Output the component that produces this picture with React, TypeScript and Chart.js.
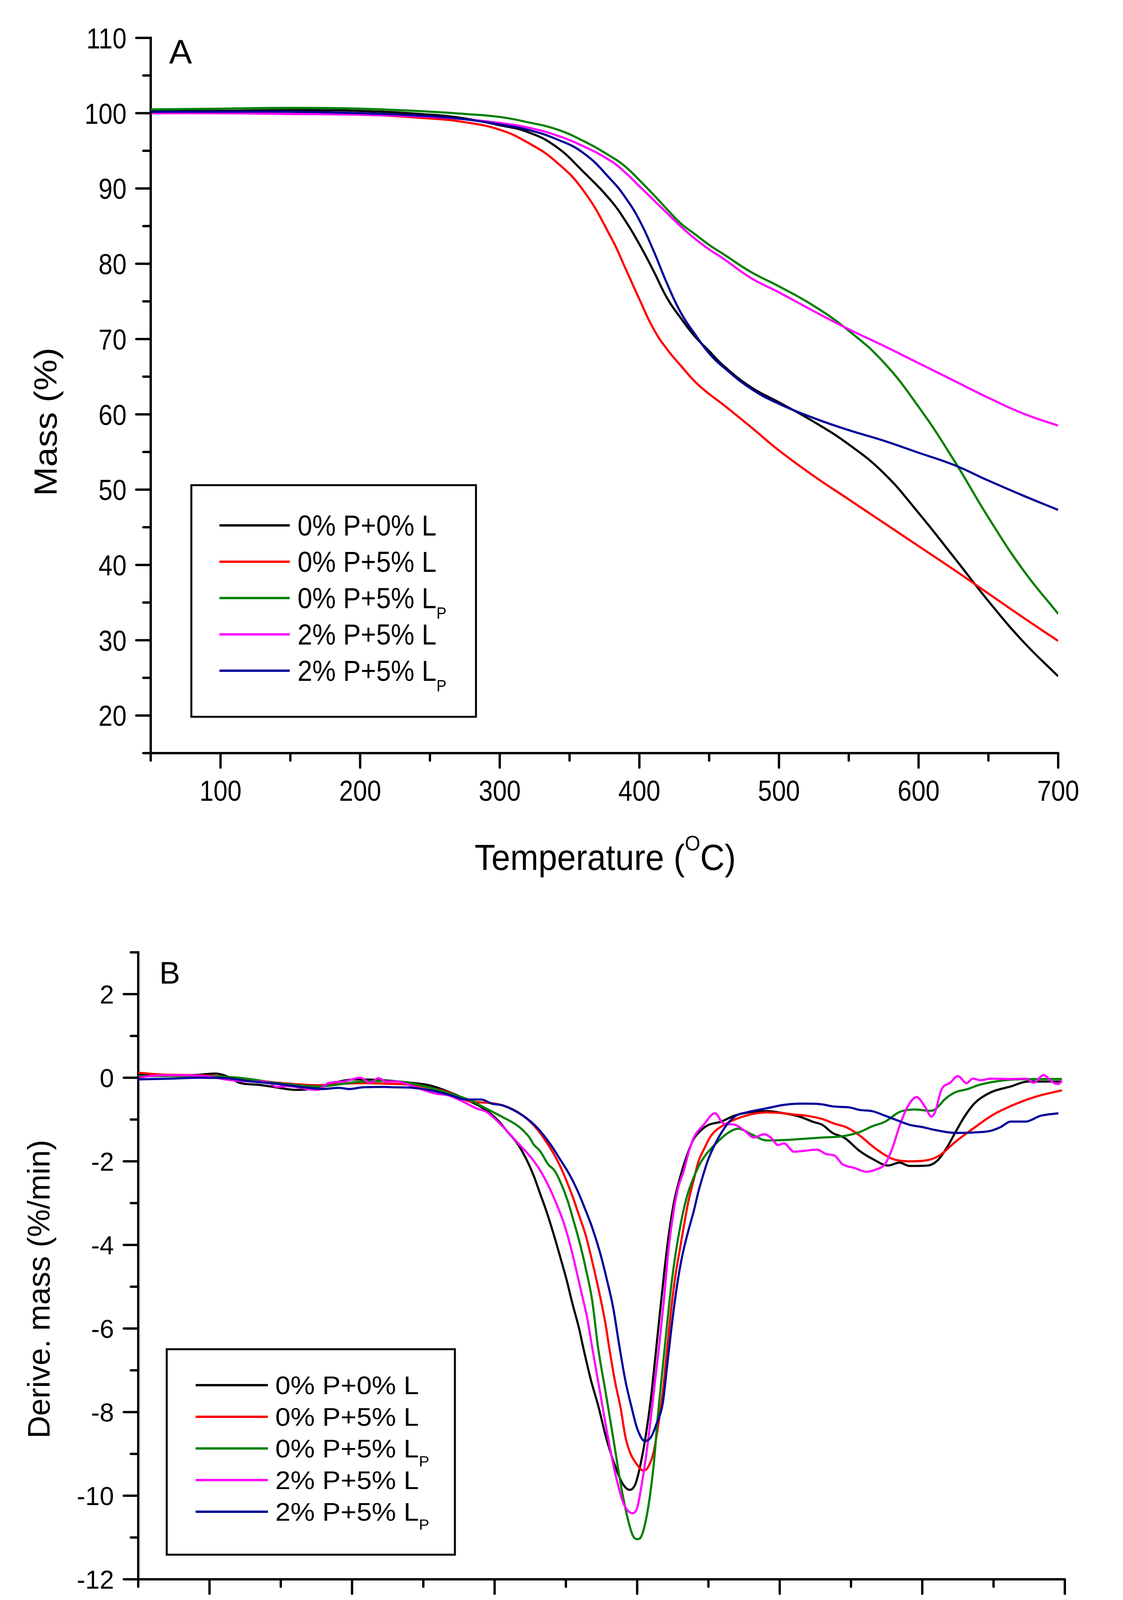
import React, { useEffect, useRef } from 'react';
import { Chart, registerables } from 'chart.js';

Chart.register(...registerables);

type Pt = [number, number];

// legend entries: main text + subscript
const seriesNames = ['0% P+0% L', '0% P+5% L', '0% P+5% L', '2% P+5% L', '2% P+5% L'];
const seriesSubs = ['', '', 'P', '', 'P'];
const seriesColors = ['#000000', '#ff0000', '#008000', '#ff00ff', '#000099'];

// axes
const tempMin = 50;
const tempMax = 700;
const tempStep = 50;
const tempLabelStep = 100;
const massMin = 15;
const massMax = 110;
const massStep = 5;
const massLabelStep = 10;
const dtgMin = -12;
const dtgMax = 3;
const dtgStep = 1;
const dtgLabelStep = 2;

// panel A: Mass (%) vs temperature (°C)
const tempsA = [50, 100, 150, 200, 250, 275, 300, 320, 340, 360, 380, 390, 400, 410, 420, 430, 440, 450,
  460, 480, 500, 525, 550, 575, 600, 625, 650, 675, 700];
const massP0L0 = [100.3, 100.3, 100.4, 100.3, 99.8, 99.3, 98.4, 97.5, 95.6, 92.2, 88.3, 85.7, 82.6, 79.1,
  75.4, 72.7, 70.3, 68.4, 66.5, 63.6, 61.6, 59.0, 56.0, 52.2, 46.9, 41.1, 35.2, 29.8, 25.2];
const massP0L5 = [100.0, 100.0, 99.9, 99.8, 99.3, 98.8, 97.8, 96.1, 93.6, 89.7, 83.4, 79.4, 75.3, 71.4,
  68.6, 66.4, 64.3, 62.7, 61.3, 58.3, 55.2, 51.8, 48.7, 45.6, 42.5, 39.4, 36.2, 33.0, 29.9];
const massP0L5p = [100.5, 100.6, 100.7, 100.6, 100.2, 99.9, 99.5, 98.8, 97.9, 96.3, 94.2, 92.9, 91.1, 89.2,
  87.2, 85.3, 83.9, 82.5, 81.3, 78.9, 77.0, 74.4, 71.1, 66.9, 61.0, 54.0, 46.3, 39.3, 33.5];
const massP2L5 = [100.0, 100.0, 99.9, 99.8, 99.5, 99.2, 98.7, 98.1, 97.1, 95.6, 93.6, 92.1, 90.3, 88.5,
  86.7, 84.9, 83.3, 81.9, 80.7, 78.1, 76.2, 73.7, 71.3, 69.1, 66.8, 64.5, 62.2, 60.1, 58.5];
const massP2L5p = [100.2, 100.2, 100.2, 100.0, 99.6, 99.2, 98.5, 97.8, 96.6, 94.7, 91.1, 88.8, 85.8, 81.8,
  77.3, 73.4, 70.6, 68.1, 66.3, 63.4, 61.4, 59.5, 57.9, 56.5, 54.9, 53.3, 51.2, 49.2, 47.3];

// panel B: derivative mass (%/min) vs temperature, as [°C, %/min]
const dtgP0L0: Pt[] = [
  [50, 0.07], [74, 0.05], [92, 0.07], [104, 0.10], [111, 0.05], [122, -0.13], [135, -0.17],
  [143, -0.21], [161, -0.29], [168, -0.28], [180, -0.21], [191, -0.09], [204, -0.04], [222, -0.06],
  [241, -0.12], [254, -0.18], [268, -0.34], [283, -0.57], [292, -0.73], [302, -1.01], [309, -1.29],
  [316.5, -1.60], [323, -2.0], [327.5, -2.35], [332, -2.78], [336.6, -3.22], [341.2, -3.72],
  [345.7, -4.25], [350.3, -4.81], [354.8, -5.43], [359.4, -6.02], [362.2, -6.46], [367.6, -7.24],
  [372.8, -7.86], [378, -8.58], [383.3, -9.17], [389.6, -9.70], [394.8, -9.86], [399, -9.70],
  [403.2, -9.11], [406.4, -8.48], [409.5, -7.71], [413, -6.6], [418.8, -4.71], [422, -3.8],
  [426, -2.95], [430, -2.4], [434, -1.95], [439.6, -1.47], [445, -1.25], [450, -1.13], [459, -1.05],
  [468, -0.91], [480, -0.82], [491, -0.80], [503, -0.85], [514, -0.93], [523, -1.05], [530, -1.13],
  [537, -1.32], [545.5, -1.44], [556, -1.75], [565, -1.94], [576, -2.10], [584, -2.03], [591, -2.11],
  [604, -2.10], [611, -1.97], [618, -1.63], [623, -1.32], [630, -0.91], [637, -0.60], [648, -0.35],
  [662, -0.21], [674, -0.09], [698, -0.09]
];
const dtgP0L5: Pt[] = [
  [50, 0.12], [65, 0.08], [92, 0.06], [120, 0.0], [148, -0.12], [176, -0.18], [204, -0.13],
  [222, -0.14], [241, -0.17], [268, -0.35], [283, -0.57], [296, -0.60], [309, -0.70], [320, -0.91],
  [329.6, -1.22], [337.5, -1.60], [343.9, -1.97], [349.4, -2.38], [354.8, -2.85], [359.4, -3.31],
  [364, -3.78], [368.5, -4.40], [373.1, -5.09], [377.7, -5.87], [380.4, -6.46], [384.3, -7.24],
  [388.5, -7.92], [391.7, -8.58], [394.8, -8.95], [400, -9.26], [404.3, -9.40], [407.4, -9.33],
  [411.6, -8.95], [414.7, -8.33], [417.9, -7.55], [421, -6.5], [424, -5.5], [427, -4.7], [430, -4.1],
  [433, -3.5], [436, -2.95], [440, -2.4], [443, -2.0], [447, -1.7], [452, -1.38], [462.5, -1.10],
  [477, -0.90], [491, -0.83], [503, -0.85], [510, -0.88], [519, -0.91], [530, -0.99], [538.5, -1.10],
  [547, -1.19], [556, -1.38], [567, -1.69], [579, -1.94], [591, -2.00], [604, -1.97], [612.5, -1.85],
  [623, -1.54], [635.5, -1.22], [650, -0.88], [664, -0.65], [680, -0.45], [698, -0.30]
];
const dtgP0L5p: Pt[] = [
  [50, 0.04], [92, 0.04], [120, 0.0], [148, -0.13], [176, -0.21], [204, -0.10], [222, -0.08],
  [241, -0.13], [268, -0.37], [283, -0.54], [292.5, -0.71], [305.5, -0.94], [316.6, -1.16],
  [324, -1.41], [327.5, -1.60], [332, -1.76], [337.5, -2.07], [342, -2.22], [346.6, -2.53],
  [351.2, -2.94], [355.8, -3.47], [360.3, -4.03], [364.9, -4.71], [368.5, -5.34], [372.6, -6.46],
  [378, -7.55], [383.3, -8.64], [388.5, -9.73], [392.7, -10.45], [396.9, -10.95], [400, -11.04],
  [403.2, -10.95], [407.4, -10.35], [411.6, -9.26], [414.7, -8.02], [418.4, -6.77], [421, -5.9],
  [424, -4.95], [427, -4.2], [430, -3.6], [433, -3.1], [436, -2.72], [443, -2.13], [448, -1.85],
  [453.7, -1.63], [462.5, -1.35], [471, -1.22], [480, -1.35], [491, -1.50], [503, -1.49],
  [517, -1.46], [530, -1.43], [544, -1.40], [556, -1.30], [565, -1.16], [574, -1.05], [584, -0.82],
  [595, -0.76], [605.5, -0.79], [609, -0.76], [616, -0.51], [623, -0.35], [632, -0.27], [639, -0.18],
  [649.6, -0.10], [665.5, -0.04], [698, -0.03]
];
const dtgP2L5: Pt[] = [
  [50, -0.01], [55.5, 0.03], [74, 0.06], [92.5, 0.05], [102, 0.02], [111, -0.04], [129.5, -0.09],
  [140.6, -0.10], [147, -0.22], [153.6, -0.20], [164.7, -0.24], [168.4, -0.27], [176, -0.29],
  [183.2, -0.13], [194.4, -0.09], [205.5, 0.0], [213, -0.12], [218.4, -0.01], [224, -0.09],
  [231.4, -0.09], [240.7, -0.18], [257.3, -0.37], [268.4, -0.43], [277.7, -0.57], [287, -0.73],
  [294.4, -0.82], [305.5, -1.16], [314.7, -1.50], [317.4, -1.60], [325.6, -1.91], [332, -2.22],
  [338.4, -2.63], [343.9, -3.06], [348.5, -3.47], [353, -4.0], [357.6, -4.65], [361.2, -5.18],
  [364.9, -5.74], [368.5, -6.46], [374.9, -7.71], [380.2, -8.73], [385.4, -9.58], [390.6, -10.2],
  [396.9, -10.42], [400, -10.29], [403.2, -9.73], [406.4, -9.01], [409.5, -8.17], [412.6, -7.24],
  [415.8, -6.3], [418.8, -5.3], [422, -4.1], [426, -3.1], [429, -2.6], [432.5, -2.25], [436, -1.8],
  [439.6, -1.44], [446.6, -1.13], [454.6, -0.85], [460.7, -1.10], [468, -1.12], [475, -1.26],
  [482, -1.43], [489, -1.35], [494, -1.44], [498.7, -1.61], [503, -1.57], [510, -1.77], [517, -1.75],
  [526, -1.72], [533, -1.83], [538.4, -1.86], [543.7, -2.06], [552.5, -2.16], [561, -2.25],
  [568, -2.19], [574, -2.06], [579, -1.69], [584, -1.16], [589.6, -0.70], [596, -0.46], [602, -0.70],
  [606.4, -0.93], [609, -0.82], [613.4, -0.29], [619.6, -0.12], [625, 0.04], [631, -0.13],
  [635.5, -0.02], [641, -0.06], [648, -0.02], [662, -0.03], [672.5, -0.02], [678, -0.12],
  [685, 0.06], [692, -0.12], [695.5, -0.15], [698, -0.07]
];
const dtgP2L5p: Pt[] = [
  [50, -0.04], [74, -0.02], [92.5, 0.0], [111, -0.01], [129.5, -0.09], [148, -0.15], [166.6, -0.23],
  [179.5, -0.27], [190.7, -0.24], [198, -0.27], [207.3, -0.23], [222, -0.22], [231.4, -0.23],
  [242.5, -0.24], [253.6, -0.29], [268.4, -0.41], [279.5, -0.52], [290.7, -0.52], [298, -0.62],
  [305.5, -0.66], [320, -0.91], [330, -1.2], [339.3, -1.60], [345.7, -1.94], [352.1, -2.29],
  [357.6, -2.66], [363, -3.10], [368.5, -3.59], [374, -4.19], [378.6, -4.81], [383.1, -5.49],
  [387.7, -6.46], [391.7, -7.24], [395.9, -7.86], [400, -8.39], [405.3, -8.69], [409.5, -8.61],
  [413.7, -8.27], [417.9, -7.80], [421, -6.9], [424, -6.0], [427, -5.2], [430, -4.55], [433, -4.05],
  [436, -3.65], [440, -3.15], [443, -2.72], [447, -2.25], [450, -1.94], [459, -1.32], [468, -0.94],
  [478, -0.82], [491, -0.73], [503, -0.65], [515.5, -0.62], [528, -0.63], [538.4, -0.69],
  [549, -0.71], [556, -0.77], [565, -0.80], [574, -0.91], [582.5, -1.02], [591.4, -1.13],
  [600, -1.18], [609, -1.25], [623, -1.32], [635.5, -1.31], [648, -1.27], [655, -1.18], [662, -1.05],
  [672.5, -1.05], [683, -0.91], [695.5, -0.85]
];

const massSeries: Pt[][] = [massP0L0, massP0L5, massP0L5p, massP2L5, massP2L5p]
  .map(vals => vals.map((v, i) => [tempsA[i], v] as Pt));
const dtgSeries = [dtgP0L0, dtgP0L5, dtgP0L5p, dtgP2L5, dtgP2L5p];

const SANS = '"Liberation Sans", Arial, sans-serif';

type Part = { t: string; size: number; dy: number };

// draws a run of text pieces (for sub/superscripts), squeezed like the original figure
function drawRun(ctx: CanvasRenderingContext2D, parts: Part[], x: number, y: number,
  align: 'left' | 'center' | 'right', sx: number, sy: number) {
  const widths = parts.map(p => {
    ctx.font = `${p.size}px ${SANS}`;
    return ctx.measureText(p.t).width;
  });
  const total = widths.reduce((a, b) => a + b, 0);
  ctx.save();
  ctx.translate(x, y);
  ctx.scale(sx, sy);
  ctx.fillStyle = '#000';
  ctx.textAlign = 'left';
  ctx.textBaseline = 'alphabetic';
  let cx = align === 'center' ? -total / 2 : align === 'right' ? -total : 0;
  parts.forEach((p, i) => {
    ctx.font = `${p.size}px ${SANS}`;
    ctx.fillText(p.t, cx, p.dy);
    cx += widths[i];
  });
  ctx.restore();
}

const decoPlugin = {
  id: 'deco',
  afterDraw(chart: any, _args: any, o: any) {
    const { ctx, chartArea, scales } = chart;
    const xs = scales.x;
    const ys = scales.y;
    ctx.save();

    // tick marks (major long, minor short), drawn outwards, plus their labels
    ctx.strokeStyle = '#000';
    ctx.lineWidth = o.tickWidth;
    ctx.lineCap = 'round';
    const tl = o.tickLabel;
    xs.ticks.forEach((t: any) => {
      const px = xs.getPixelForValue(t.value);
      const major = t.value % tempLabelStep === 0;
      ctx.beginPath();
      ctx.moveTo(px, chartArea.bottom);
      ctx.lineTo(px, chartArea.bottom + (major ? o.majorLen : o.minorLen));
      ctx.stroke();
      if (major) {
        drawRun(ctx, [{ t: String(t.value), size: tl.size, dy: 0 }],
          px, chartArea.bottom + tl.xBaseline, 'center', tl.sx, tl.sy);
      }
    });
    ys.ticks.forEach((t: any) => {
      const py = ys.getPixelForValue(t.value);
      const major = Math.abs(t.value % o.yLabelStep) < 1e-6;
      ctx.beginPath();
      ctx.moveTo(chartArea.left, py);
      ctx.lineTo(chartArea.left - (major ? o.majorLen : o.minorLen), py);
      ctx.stroke();
      if (major) {
        drawRun(ctx, [{ t: String(t.value), size: tl.size, dy: 0 }],
          chartArea.left - tl.yGap, py + 0.358 * tl.size * tl.sy, 'right', tl.sx, tl.sy);
      }
    });

    // panel letter
    drawRun(ctx, [{ t: o.letter.text, size: o.letter.size, dy: 0 }], o.letter.x, o.letter.y, 'left', 1, 1);

    // y title (rotated)
    ctx.save();
    ctx.translate(o.yTitle.x, o.yTitle.y);
    ctx.rotate(-Math.PI / 2);
    ctx.scale(1, o.yTitle.thick);
    ctx.fillStyle = '#000';
    ctx.font = `${o.yTitle.size}px ${SANS}`;
    ctx.textAlign = 'center';
    ctx.textBaseline = 'middle';
    ctx.fillText(o.yTitle.text, 0, 0);
    ctx.restore();

    // x title with superscript O
    const f = o.xTitle.size;
    drawRun(ctx, [
      { t: 'Temperature (', size: f, dy: 0 },
      { t: 'O', size: f * 0.59, dy: -f * 0.54 },
      { t: 'C)', size: f, dy: 0 }
    ], o.xTitle.x, o.xTitle.y, 'center', o.xTitle.sx, o.xTitle.sy);

    // legend box
    const lg = o.legend;
    ctx.strokeStyle = '#000';
    ctx.lineWidth = lg.boxWidth;
    ctx.strokeRect(lg.box[0], lg.box[1], lg.box[2] - lg.box[0], lg.box[3] - lg.box[1]);
    chart.data.datasets.forEach((ds: any, i: number) => {
      const ry = lg.rowY0 + i * lg.rowStep;
      ctx.strokeStyle = ds.borderColor;
      ctx.lineWidth = lg.lineWidth;
      ctx.lineCap = 'butt';
      ctx.beginPath();
      ctx.moveTo(lg.lineX[0], ry);
      ctx.lineTo(lg.lineX[1], ry);
      ctx.stroke();
      const s = lg.size;
      const parts: Part[] = [{ t: seriesNames[i], size: s, dy: 0 }];
      if (seriesSubs[i]) parts.push({ t: seriesSubs[i], size: s * 0.57, dy: s * 0.36 });
      drawRun(ctx, parts, lg.textX, ry + 0.358 * s * lg.sy, 'left', lg.sx, lg.sy);
    });

    ctx.restore();
  }
};

function makeConfig(series: Pt[][], yMin: number, yMax: number, yStep: number, yLabelStep: number,
  area: any, curve: any, deco: any): any {
  return {
    type: 'line',
    data: {
      datasets: series.map((pts, i) => ({
        label: seriesNames[i] + seriesSubs[i],
        data: pts.map(([x, y]) => ({ x, y })),
        borderColor: seriesColors[i],
        borderWidth: 5.5,
        pointRadius: 0,
        fill: false,
        ...curve,
        order: series.length - i
      }))
    },
    options: {
      animation: false,
      responsive: false,
      devicePixelRatio: 1,
      layout: { padding: { top: area.top, right: area.right, left: 0, bottom: 0 } },
      plugins: {
        legend: { display: false },
        tooltip: { enabled: false },
        deco: { ...deco, yLabelStep }
      },
      scales: {
        x: {
          type: 'linear',
          min: tempMin,
          max: tempMax,
          grid: { display: false },
          border: { display: true, color: '#000', width: 6 },
          ticks: { stepSize: tempStep, autoSkip: false, maxRotation: 0, display: false },
          afterFit: (s: any) => { s.height = area.xHeight; }
        },
        y: {
          type: 'linear',
          min: yMin,
          max: yMax,
          grid: { display: false },
          border: { display: true, color: '#000', width: 6 },
          ticks: { stepSize: yStep, autoSkip: false, display: false },
          afterFit: (s: any) => { s.width = area.left; }
        }
      }
    },
    plugins: [decoPlugin]
  };
}

const W = 2876;
const HA = 2260;
const HB = 2071;

const ChartCanvas: React.FC<{ config: () => any; width: number; height: number; top: number }> = ({ config, width, height, top }) => {
  const ref = useRef<HTMLCanvasElement>(null);
  useEffect(() => {
    if (!ref.current) return;
    const chart = new Chart(ref.current, config());
    return () => chart.destroy();
  }, [config]);
  return (
    <canvas
      ref={ref}
      width={width}
      height={height}
      style={{ position: 'absolute', left: 0, top, width, height }}
    />
  );
};

const configA = () => makeConfig(massSeries, massMin, massMax, massStep, massLabelStep,
  { top: 97, right: W - 2710, left: 386, xHeight: HA - 1928 },
  { tension: 0.45 },
  {
    tickWidth: 6, majorLen: 37, minorLen: 19,
    tickLabel: { size: 75, sx: 0.86, sy: 1, xBaseline: 122, yGap: 62 },
    letter: { text: 'A', x: 433, y: 163, size: 88 },
    yTitle: { text: 'Mass (%)', x: 123, y: 1080, size: 90, thick: 0.9 },
    xTitle: { x: 1550, y: 2227, size: 92, sx: 0.94, sy: 1 },
    legend: {
      box: [490, 1242, 1219, 1835], boxWidth: 5, lineWidth: 6,
      lineX: [562, 742], textX: 762, rowY0: 1345, rowStep: 93, size: 74, sx: 0.915, sy: 1
    }
  });

const configB = () => makeConfig(dtgSeries, dtgMin, dtgMax, dtgStep, dtgLabelStep,
  { top: 138, right: W - 2727, left: 354, xHeight: HB - 1743 },
  { cubicInterpolationMode: 'monotone' },
  {
    tickWidth: 6, majorLen: 37, minorLen: 19,
    tickLabel: { size: 66, sx: 1, sy: 1, xBaseline: 117, yGap: 62 },
    letter: { text: 'B', x: 408, y: 218, size: 80 },
    yTitle: { text: 'Derive. mass (%/min)', x: 105, y: 1000, size: 80, thick: 1 },
    xTitle: { x: 1541, y: 1993, size: 86, sx: 1, sy: 0.86 },
    legend: {
      box: [427, 1154, 1165, 1680], boxWidth: 5, lineWidth: 6,
      lineX: [501, 686], textX: 705, rowY0: 1246, rowStep: 81, size: 70, sx: 1, sy: 0.92
    }
  });

export default function App() {
  return (
    <div style={{ position: 'absolute', left: 0, top: 0, width: W, height: 4371, background: '#fff' }}>
      <ChartCanvas config={configA} width={W} height={HA} top={0} />
      <ChartCanvas config={configB} width={W} height={HB} top={2300} />
    </div>
  );
}
